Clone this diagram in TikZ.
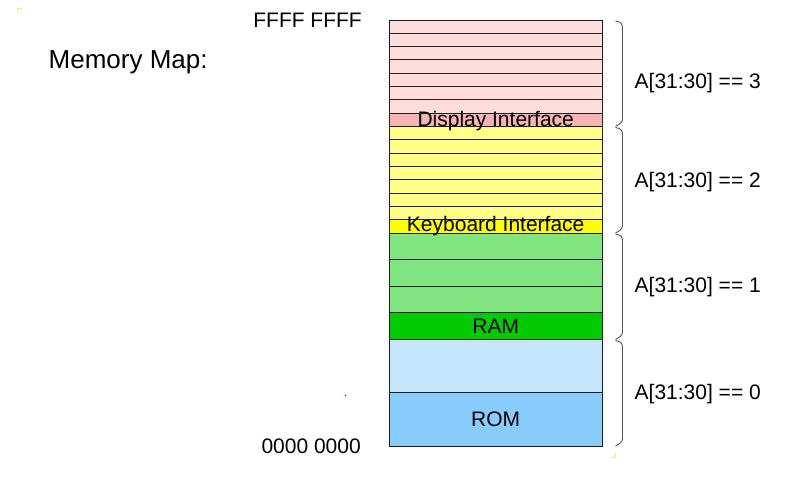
\documentclass[tikz,border=0pt]{standalone}
\usepackage{fontspec}
\setmainfont{Liberation Sans}
\definecolor{pinkL}{RGB}{255,221,221}
\definecolor{pinkD}{RGB}{246,180,180}
\definecolor{yelL}{RGB}{255,255,136}
\definecolor{yelD}{RGB}{255,255,0}
\definecolor{grnL}{RGB}{128,228,128}
\definecolor{grnD}{RGB}{0,204,0}
\definecolor{bluL}{RGB}{197,229,250}
\definecolor{bluD}{RGB}{135,204,250}
\definecolor{edge}{RGB}{30,30,30}
\definecolor{bracecol}{RGB}{85,85,85}
\definecolor{markyel}{RGB}{240,240,110}
\tikzset{
  rowbox/.style={draw=edge, line width=0.9pt},
  lbl/.style={inner sep=0pt, font=\fontsize{21}{25}\selectfont},
  bigl/.style={inner sep=0pt, font=\fontsize{26}{30}\selectfont},
  bracepath/.style={draw=bracecol, line width=0.9pt},
  cornermark/.style={draw=markyel, line width=1pt}
}
\begin{document}
\begin{tikzpicture}[x=1pt,y=-1pt]
\useasboundingbox (0,0) rectangle (804,480);
% pink section
\foreach \i in {0,...,6} {
  \path[rowbox, fill=pinkL] (389.5,{20+\i*13.3125}) rectangle (602,{20+(\i+1)*13.3125});
}
\path[rowbox, fill=pinkD] (389.5,{20+7*13.3125}) rectangle (602,126.5);
% yellow section
\foreach \i in {0,...,6} {
  \path[rowbox, fill=yelL] (389.5,{126.5+\i*13.3125}) rectangle (602,{126.5+(\i+1)*13.3125});
}
\path[rowbox, fill=yelD] (389.5,{126.5+7*13.3125}) rectangle (602,233);
% green section
\foreach \i in {0,...,2} {
  \path[rowbox, fill=grnL] (389.5,{233+\i*26.625}) rectangle (602,{233+(\i+1)*26.625});
}
\path[rowbox, fill=grnD] (389.5,{233+3*26.625}) rectangle (602,339.5);
% blue section
\path[rowbox, fill=bluL] (389.5,339.5) rectangle (602,392.75);
\path[rowbox, fill=bluD] (389.5,392.75) rectangle (602,446);
\draw[edge, line width=0.9pt] (389.5,20) rectangle (602,446);

% row labels
\node[lbl, anchor=base] (disp) at (495.7,126) {Display Interface};
\node[lbl, anchor=base] (kbd) at (495.7,231) {Keyboard Interface};
\node[lbl, anchor=base] (ram) at (495.7,333.8) {RAM};
\node[lbl, anchor=base] (rom) at (495.7,426.7) {ROM};

% braces
\foreach \a/\b in {20/126.5, 126.5/233, 233/339.5, 339.5/446} {
  \draw[bracepath] (615.5,{\a+1}) .. controls (621,{\a+2}) and (622.5,{\a+4}) .. (622.5,{\a+8})
     -- (622.5,{\b-7}) .. controls (622.5,{\b-4}) and (619,{\b-2}) .. (615.5,{\b});
}

% section labels
\node[lbl, anchor=base west] (s3) at (634.5,88) {A[31:30] == 3};
\node[lbl, anchor=base west] (s2) at (634.5,187) {A[31:30] == 2};
\node[lbl, anchor=base west] (s1) at (634.5,292.5) {A[31:30] == 1};
\node[lbl, anchor=base west] (s0) at (634.5,399) {A[31:30] == 0};

% addresses and title
\node[lbl, anchor=base east] (top) at (362,27.7) {FFFF FFFF};
\node[lbl, anchor=base east] (bot) at (361,453) {0000 0000};
\node[bigl, anchor=base west] (title) at (48.5,68.3) {Memory Map:};

% small marks
\draw[cornermark] (17.5,13) -- (17.5,8.5) -- (22,8.5);
\draw[cornermark] (615,453) -- (615,457.5) -- (610.5,457.5);
\fill[red!85!black] (345.5,395.5) circle (0.9);
\end{tikzpicture}
\end{document}
